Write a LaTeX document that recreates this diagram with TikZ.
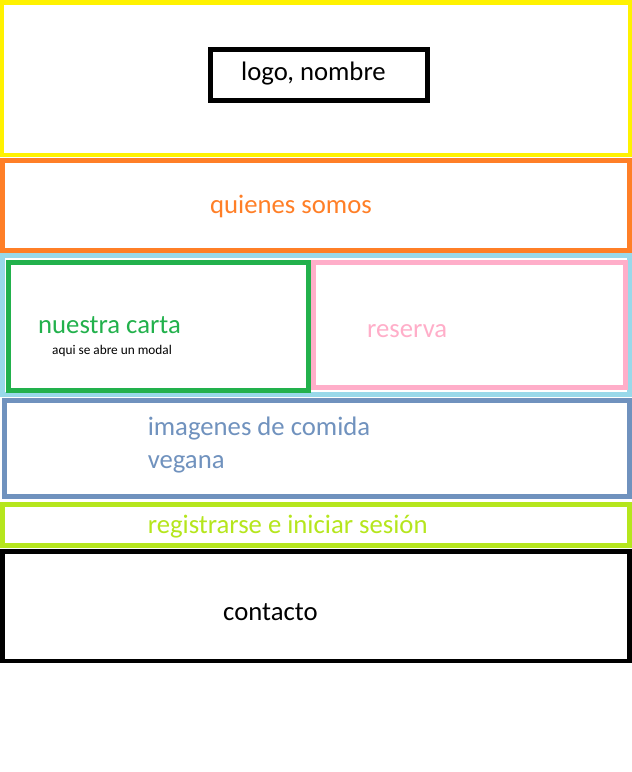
\documentclass[tikz,border=0pt]{standalone}
\usepackage{fontspec}
\setmainfont{Carlito}
\definecolor{yel}{HTML}{FFF200}
\definecolor{ora}{HTML}{FF7F27}
\definecolor{lblue}{HTML}{99D9EA}
\definecolor{grn}{HTML}{22B14C}
\definecolor{pnk}{HTML}{FFAEC9}
\definecolor{bgray}{HTML}{7092BE}
\definecolor{lime}{HTML}{B5E61D}
\tikzset{
  frame/.style={draw, inner sep=0pt, outer sep=0pt, anchor=north west, line join=miter},
  big/.style={anchor=base west, inner sep=0pt, font=\fontsize{26.7}{33}\selectfont},
  small/.style={anchor=base west, inner sep=0pt, font=\fontsize{13.3}{16}\selectfont},
}
\newcommand{\fr}[7]{% name, color, lw, x1, y1, x2, y2
  \node[frame, draw=#2, line width=#3pt, minimum width={(#6-#4)*1pt}, minimum height={(#7-#5)*1pt}] (#1) at (#4,#5) {};}
\begin{document}
\begin{tikzpicture}[x=1pt,y=-1pt]
\fill[white] (0,0) rectangle (632,772);
\useasboundingbox (0,0) rectangle (632,772);
\fr{header}{yel}{4.5}{1.5}{2.5}{630}{155}
\fr{logo}{black}{4.5}{210.5}{49.5}{427.5}{100.5}
\fr{quienes}{ora}{5}{2.5}{160.5}{629.5}{250.5}
\fr{row}{lblue}{5}{2.5}{255.5}{629.5}{394.5}
\fr{carta}{grn}{5}{8}{262.5}{308}{390}
\fr{reserva}{pnk}{5}{313.5}{262.5}{625}{387.5}
\fr{imagenes}{bgray}{5}{4.7}{400.3}{629}{496}
\fr{registro}{lime}{5}{2.5}{504.5}{629.5}{545.5}
\fr{contacto}{black}{4.7}{2.3}{551.7}{629.7}{661}
\node[big] (tlogo) at (241,80) {logo, nombre};
\node[big, text=ora] (tquienes) at (210,213) {quienes somos};
\node[big, text=grn] (tcarta) at (38,333) {nuestra carta};
\node[small] (tmodal) at (52,354) {aqui se abre un modal};
\node[big, text=pnk] (treserva) at (367,337) {reserva};
\node[big, text=bgray] (timg1) at (147.6,435) {imagenes de comida};
\node[big, text=bgray] (timg2) at (147.6,468) {vegana};
\node[big, text=lime] (treg) at (147.6,533) {registrarse e iniciar sesión};
\node[big] (tcont) at (223,620) {contacto};
\end{tikzpicture}
\end{document}
